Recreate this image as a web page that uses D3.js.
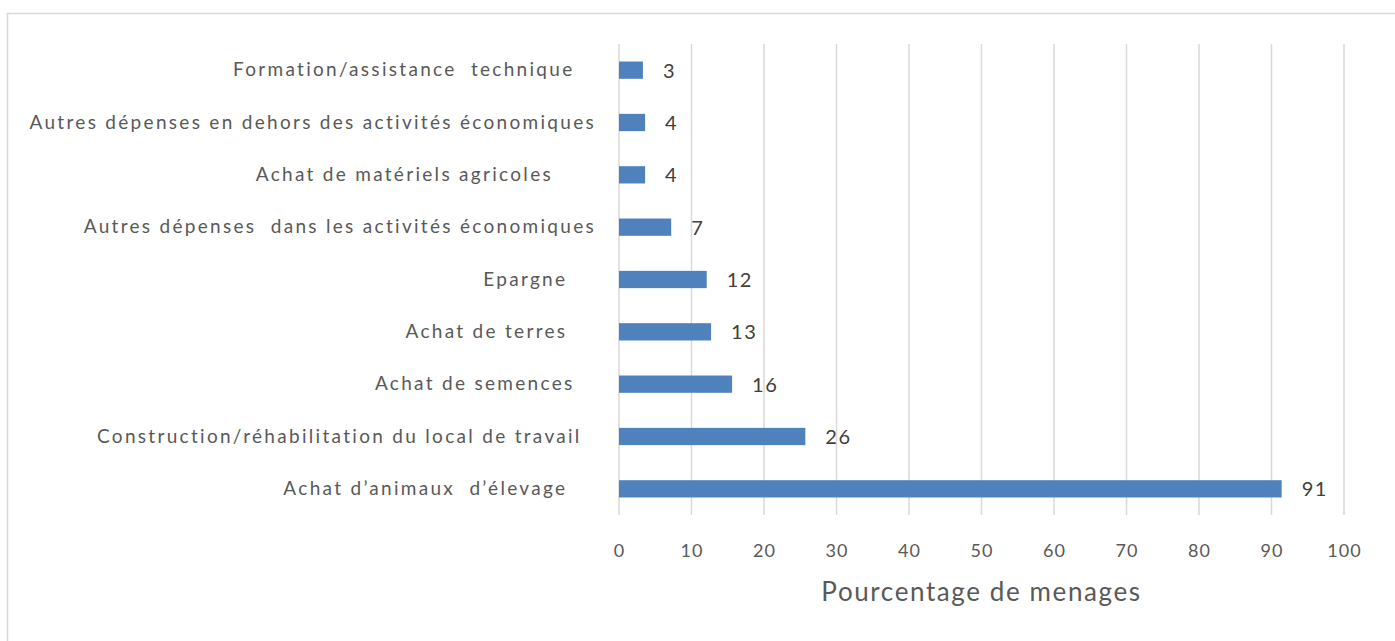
<!DOCTYPE html>
<html>
<head>
<meta charset="utf-8">
<script src="https://cdn.jsdelivr.net/npm/d3@7"></script>
<style>
	body { margin: 0; background: #fff; }
	svg { display: block; }
	text { white-space: pre; }
</style>
</head>
<body>
<svg id="chart" width="1395" height="641"></svg>
<script>
// Categories, top to bottom (trailing spaces come from the source labels)
const categories = [
	"Formation/assistance  technique   ",
	"Autres dépenses en dehors des activités économiques",
	"Achat de matériels agricoles      ",
	"Autres dépenses  dans les activités économiques",
	"Epargne    ",
	"Achat de terres    ",
	"Achat de semences   ",
	"Construction/réhabilitation du local de travail  ",
	"Achat d’animaux  d’élevage    "
];
// Bar lengths
const values = [3.3, 3.6, 3.6, 7.2, 12.1, 12.7, 15.6, 25.7, 91.4];
// Data labels as printed
const labels = [3, 4, 4, 7, 12, 13, 16, 26, 91];
const xTicks = [0, 10, 20, 30, 40, 50, 60, 70, 80, 90, 100];
const xTitle = "Pourcentage de menages";

const svg = d3.select("#chart");
const font = "Lato, 'Open Sans', sans-serif";

// outer frame
svg.append("rect")
	.attr("x", 7.5).attr("y", 13.5)
	.attr("width", 1420).attr("height", 660)
	.attr("fill", "none")
	.attr("stroke", "#d9d9d9")
	.attr("stroke-width", 1.5);

const plot = { left: 619, right: 1344, top: 44, bottom: 515 };

const x = d3.scaleLinear()
	.domain([0, 100])
	.range([plot.left, plot.right]);

const y = d3.scaleBand()
	.domain(categories)
	.range([plot.top, plot.bottom])
	.paddingInner(0.67)
	.paddingOuter(0.335);

// gridlines
svg.append("g")
	.selectAll("line")
	.data(xTicks)
	.join("line")
	.attr("x1", d => x(d)).attr("x2", d => x(d))
	.attr("y1", plot.top).attr("y2", plot.bottom)
	.attr("stroke", "#d9d9d9")
	.attr("stroke-width", 1.5);

// x axis labels
const xAxis = d3.axisBottom(x)
	.tickValues(xTicks)
	.tickSize(0)
	.tickPadding(0);
svg.append("g")
	.attr("transform", `translate(0,${plot.bottom + 29})`)
	.call(xAxis)
	.call(g => g.select(".domain").remove())
	.call(g => g.selectAll("text")
		.attr("dy", "0.71em")
		.attr("font-family", font)
		.attr("font-size", 18)
		.attr("letter-spacing", 1)
		.attr("fill", "#595959"));

// category labels
const yAxis = d3.axisLeft(y).tickSize(0).tickPadding(0);
svg.append("g")
	.attr("transform", `translate(${plot.left - 23},0)`)
	.call(yAxis)
	.call(g => g.select(".domain").remove())
	.call(g => g.selectAll("text")
		.attr("font-family", font)
		.attr("font-size", 19)
		.attr("letter-spacing", 2.3)
		.attr("fill", "#595959"));

// bars
svg.append("g")
	.selectAll("rect")
	.data(values)
	.join("rect")
	.attr("x", x(0))
	.attr("y", (d, i) => y(categories[i]))
	.attr("width", d => x(d) - x(0))
	.attr("height", y.bandwidth())
	.attr("fill", "#4f81bd");

// value labels
svg.append("g")
	.selectAll("text")
	.data(values)
	.join("text")
	.attr("x", d => x(d) + 20)
	.attr("y", (d, i) => y(categories[i]) + y.bandwidth() / 2)
	.attr("dy", "0.38em")
	.attr("font-family", font)
	.attr("font-size", 20)
	.attr("letter-spacing", 1.5)
	.attr("fill", "#404040")
	.text((d, i) => labels[i]);

// axis title
svg.append("text")
	.attr("x", (plot.left + plot.right) / 2)
	.attr("y", 601)
	.attr("text-anchor", "middle")
	.attr("font-family", font)
	.attr("font-size", 26)
	.attr("letter-spacing", 1.6)
	.attr("fill", "#595959")
	.text(xTitle);
</script>
</body>
</html>
